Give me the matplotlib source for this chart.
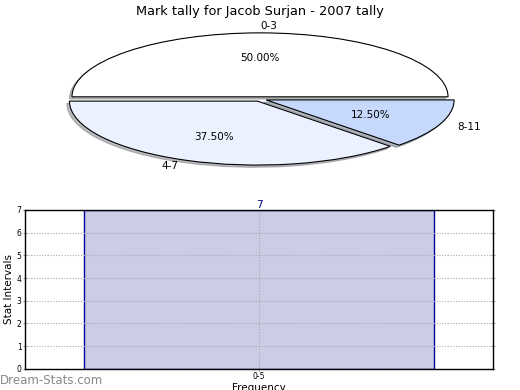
import matplotlib
matplotlib.use('Agg')
import matplotlib.pyplot as plt

# pie data
pie_labels = ['0-3', '4-7', '8-11']
pie_values = [4, 3, 1]
pie_colors = ['#ffffff', '#ebf1fe', '#c6d9fd']

# bar data
bar_labels = ['0-5']
bar_values = [7]

fig = plt.figure(figsize=(5.2, 3.9), dpi=100)

# Pie (squashed, not equal aspect like old matplotlib)
ax1 = fig.add_axes([0.048, 0.541, 0.904, 0.41])
wedges, texts, autotexts = ax1.pie(pie_values, labels=pie_labels, colors=pie_colors,
                                   explode=[0.035] * 3, autopct='%1.2f%%',
                                   shadow={'ox': -0.01, 'oy': -0.025, 'shade': 0.5},
                                   startangle=0, counterclock=True,
                                   wedgeprops={'edgecolor': 'black', 'linewidth': 0.8},
                                   textprops={'fontsize': 7.5})
texts[0].set_ha('left')
ax1.set_aspect('auto')
ax1.set_xlim(-1.25, 1.25)
ax1.set_ylim(-1.25, 1.25)
ax1.set_title('Mark tally for Jacob Surjan - 2007 tally', fontsize=9.3, pad=3)

# Bar chart
ax2 = fig.add_axes([0.048, 0.054, 0.9, 0.408])
xs = list(range(len(bar_values)))
bars = ax2.bar(xs, bar_values, width=0.748, color='#ccccE6', edgecolor='#000099', linewidth=1)
for x, v in zip(xs, bar_values):
    ax2.text(x, v, str(v), ha='center', va='bottom', color='#000080', fontsize=7.5)
ax2.set_xlim(-0.5, 0.5)
ax2.set_ylim(0, 7)
ax2.set_xticks(xs)
ax2.set_xticklabels(bar_labels)
ax2.set_yticks(range(0, 8))
ax2.tick_params(labelsize=5.5, length=3, pad=1, direction='inout', color='#999999', right=True)
ax2.grid(True, linestyle=(0, (1, 1.5)), color='#aaaaaa', linewidth=0.8)
ax2.set_axisbelow(False)
ax2.set_ylabel('Stat Intervals', fontsize=7.5, labelpad=2)
ax2.set_xlabel('Frequency', fontsize=7.5, labelpad=1)
for s in ax2.spines.values():
    s.set_linewidth(1)
    s.set_zorder(4)

fig.text(0.0, 0.015, 'Dream-Stats.com', color='#888888', fontsize=8.5)

plt.savefig('out.png', dpi=100)
